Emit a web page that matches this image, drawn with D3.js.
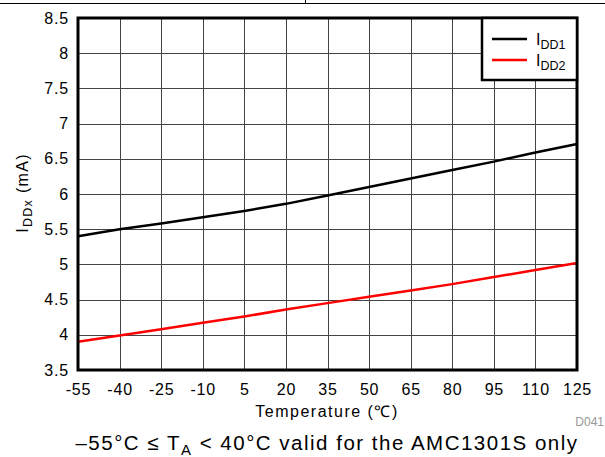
<!DOCTYPE html>
<html><head><meta charset="utf-8">
<script src="https://cdn.jsdelivr.net/npm/d3@7"></script>
<style>body{margin:0;background:#fff}svg text{font-family:"Liberation Sans",Arial,sans-serif}</style>
</head><body><svg id="c" width="605" height="457"></svg>
<script>
const temps = [-55,-40,-25,-10,5,20,35,50,65,80,95,110,125];
const idd1 = [5.40,5.50,5.58,5.67,5.76,5.86,5.98,6.10,6.22,6.34,6.46,6.59,6.71];
const idd2 = [3.90,3.99,4.08,4.17,4.26,4.36,4.45,4.54,4.63,4.72,4.82,4.92,5.02];
const xTicks = [-55,-40,-25,-10,5,20,35,50,65,80,95,110,125];
const yTicks = [3.5,4,4.5,5,5.5,6,6.5,7,7.5,8,8.5];
const seriesNames = ["DD1","DD2"];
const seriesColors = ["#000000","#ff0000"];

const svg = d3.select("#c");
const L=78, R=577, T=18, B=370;
const x = d3.scaleLinear().domain([-55,125]).range([L,R]);
const y = d3.scaleLinear().domain([3.5,8.5]).range([B,T]);

// top rule
svg.append("line").attr("x1",0).attr("x2",605).attr("y1",3.5).attr("y2",3.5).attr("stroke","#000").attr("stroke-width",1);
svg.append("line").attr("x1",305.5).attr("x2",305.5).attr("y1",0).attr("y2",4).attr("stroke","#000").attr("stroke-width",1);

// grid
const g = svg.append("g");
g.selectAll(".vx").data(xTicks.slice(1,-1)).join("line")
  .attr("x1",d=>Math.round(x(d))+0.5).attr("x2",d=>Math.round(x(d))+0.5)
  .attr("y1",T).attr("y2",B).attr("stroke","#444").attr("stroke-width",1);
g.selectAll(".hy").data(yTicks.slice(1,-1)).join("line")
  .attr("y1",d=>Math.round(y(d))+0.5).attr("y2",d=>Math.round(y(d))+0.5)
  .attr("x1",L).attr("x2",R).attr("stroke","#444").attr("stroke-width",1);

// axes labels via d3 axes
const xAxis = svg.append("g").attr("transform",`translate(0,${B})`)
  .call(d3.axisBottom(x).tickValues(xTicks).tickSize(0).tickPadding(14).tickFormat(d=>String(d)));
xAxis.select(".domain").remove();
xAxis.selectAll("text").attr("font-size",16).attr("letter-spacing",0.8).attr("fill","#000").attr("font-family","Liberation Sans, Arial, sans-serif");
const yAxis = svg.append("g").attr("transform",`translate(${L},0)`)
  .call(d3.axisLeft(y).tickValues(yTicks).tickSize(0).tickPadding(9).tickFormat(d=>String(d)));
yAxis.select(".domain").remove();
yAxis.selectAll("text").attr("font-size",16).attr("letter-spacing",0.8).attr("fill","#000").attr("font-family","Liberation Sans, Arial, sans-serif");

// lines
const line = d3.line().x((d,i)=>x(temps[i])).y(d=>y(d));
[idd1,idd2].forEach((s,i)=>{
  svg.append("path").datum(s).attr("d",line).attr("fill","none")
    .attr("stroke",seriesColors[i]).attr("stroke-width",2.5);
});

// frame
svg.append("rect").attr("x",L).attr("y",T).attr("width",R-L).attr("height",B-T)
  .attr("fill","none").attr("stroke","#000").attr("stroke-width",3);

// legend
const lg = svg.append("g");
lg.append("rect").attr("x",482).attr("y",T).attr("width",R-482).attr("height",80-T)
  .attr("fill","#fff").attr("stroke","#000").attr("stroke-width",2.5);
seriesNames.forEach((n,i)=>{
  const yy = 39 + i*21;
  lg.append("line").attr("x1",492).attr("x2",527).attr("y1",yy).attr("y2",yy)
    .attr("stroke",seriesColors[i]).attr("stroke-width",2.5);
  const t = lg.append("text").attr("x",536).attr("y",yy+6).attr("font-size",16).attr("fill","#000");
  t.append("tspan").text("I");
  t.append("tspan").attr("dy",4).attr("font-size",12.5).text(n);
});

// x title
svg.append("text").attr("x",327).attr("y",417).attr("text-anchor","middle").attr("font-size",16).attr("letter-spacing",1.5).text("Temperature (℃)");
// y title
const yt = svg.append("text").attr("transform","translate(28,193) rotate(-90)").attr("text-anchor","middle").attr("font-size",16).attr("letter-spacing",1.3);
yt.append("tspan").text("I");
yt.append("tspan").attr("dy",4).attr("font-size",12.5).text("DDx");
yt.append("tspan").attr("dy",-4).text(" (mA)");
// D041
svg.append("text").attr("x",604).attr("y",426).attr("text-anchor","end").attr("font-size",12).attr("fill","#999").text("D041");
// caption
const cap = svg.append("text").attr("x",327).attr("y",450).attr("text-anchor","middle").attr("font-size",20.5).attr("letter-spacing",1.5);
cap.append("tspan").text("–55°C ≤ T");
cap.append("tspan").attr("dy",5).attr("font-size",15).text("A");
cap.append("tspan").attr("dy",-5).text(" < 40°C valid for the AMC1301S only");
</script></body></html>
